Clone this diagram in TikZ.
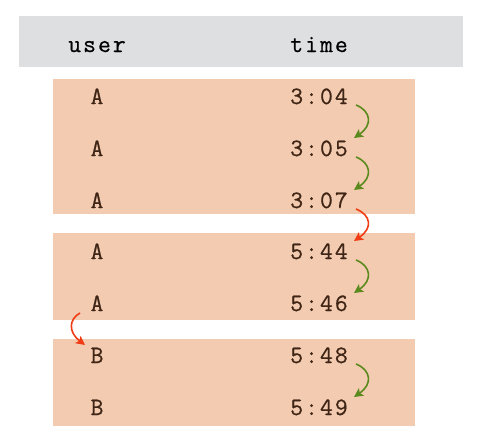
\documentclass[tikz,border=0pt]{standalone}
\usepackage{fontspec}
\newfontfamily\cellfont[LetterSpace=8,FakeBold=0.6]{Latin Modern Mono}
\usetikzlibrary{arrows.meta}
\definecolor{hdr}{HTML}{DEDFE1}
\definecolor{peach}{HTML}{F3CBB0}
\definecolor{txt}{HTML}{3F2516}
\definecolor{grn}{HTML}{5A8A1E}
\definecolor{rd}{HTML}{F03C14}
\tikzset{
  cell/.style={font=\cellfont\fontsize{25}{25}\selectfont, text=txt, inner sep=0pt, anchor=base},
  head/.style={font=\cellfont\fontsize{25}{25}\selectfont, text=black, inner sep=0pt, anchor=base},
  link/.style={-{Stealth[length=9pt,width=9pt,inset=2pt]}, line width=1.6pt},
}
\begin{document}
\begin{tikzpicture}[x=1pt,y=-1pt]
\useasboundingbox (0,0) rectangle (480,445);
\fill[white] (0,0) rectangle (480,445);
\fill[hdr] (19,16) rectangle (463,67);
\fill[peach] (53,79) rectangle (415,214);
\fill[peach] (53,233) rectangle (415,320);
\fill[peach] (53,339) rectangle (415,426);
\node[head] (hu) at (97,52) {user};
\node[head] (ht) at (319,52) {time};
\foreach \i/\u/\t/\y in {1/A/3:04/104,2/A/3:05/156,3/A/3:07/208,4/A/5:44/259,5/A/5:46/311,6/B/5:48/363,7/B/5:49/415}{
  \node[cell] (u\i) at (97,\y) {\u};
  \node[cell] (t\i) at (319,\y) {\t};
  \coordinate (s\i) at (356,\y+1);
  \coordinate (e\i) at (354,\y-18);
}
\coordinate (ls) at (80,313);
\coordinate (le) at (85,345);
\draw[link,grn] (s1) .. controls +(15,6) and +(19,-13) .. (e2);
\draw[link,grn] (s2) .. controls +(15,6) and +(19,-13) .. (e3);
\draw[link,rd] (s3) .. controls +(15,6) and +(19,-13) .. (e4);
\draw[link,grn] (s4) .. controls +(15,6) and +(19,-13) .. (e5);
\draw[link,rd] (ls) .. controls +(-11,6) and +(-17,-13) .. (le);
\draw[link,grn] (s6) .. controls +(15,6) and +(19,-13) .. (e7);
\end{tikzpicture}
\end{document}
